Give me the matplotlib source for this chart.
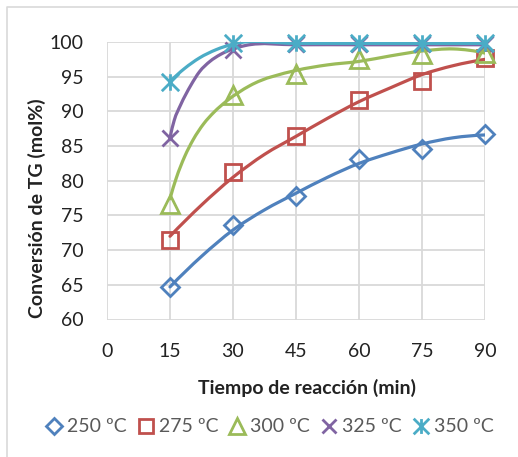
import numpy as np
import matplotlib

matplotlib.use("Agg")
import matplotlib.pyplot as plt
from matplotlib.lines import Line2D
from matplotlib.patches import PathPatch
from matplotlib.path import Path

plt.rcParams["font.family"] = ["Lato", "DejaVu Sans"]

tiempo = [15, 30, 45, 60, 75, 90]
labels = ["250 ºC", "275 ºC", "300 ºC", "325 ºC", "350 ºC"]

# experimental points (markers)
exp_250 = [64.7, 73.6, 77.8, 83.1, 84.6, 86.8]
exp_275 = [71.4, 81.3, 86.4, 91.7, 94.4, 97.7]
exp_300 = [76.7, 92.4, 95.4, 97.6, 98.2, 98.4]
exp_325 = [86.2, 98.9, 99.7, 99.7, 99.7, 99.7]
exp_350 = [94.3, 99.9, 99.9, 99.9, 99.9, 99.9]

# fitted curves at these times
t_250 = [15, 22.5, 30, 37.5, 45, 52.5, 60, 67.5, 75, 82.5, 90]
fit_250 = [64.7, 69.1, 72.9, 75.8, 78.2, 80.5, 82.5, 84.0, 85.3, 86.2, 86.6]
t_275 = [15, 22.5, 30, 37.5, 45, 52.5, 60, 67.5, 75, 82.5, 90]
fit_275 = [72.0, 76.5, 80.5, 83.8, 86.4, 89.0, 91.4, 93.4, 95.3, 96.6, 97.5]
t_300 = [15, 16.5, 18.5, 20.5, 23, 25.5, 28.5, 34, 45, 52.5, 60, 67.5, 75, 82.5, 90]
fit_300 = [77.4, 80.4, 83.5, 85.9, 88.2, 89.9, 91.5, 93.7, 95.9, 96.7, 97.2, 98.0, 98.7, 99.0, 98.4]
t_325 = [15, 16, 17.5, 20, 22, 24.5, 27, 30, 33, 45, 60, 75, 90]
fit_325 = [86.2, 88.7, 90.9, 93.8, 95.7, 97.2, 98.2, 99.0, 99.5, 99.6, 99.6, 99.6, 99.6]
t_350 = [15, 18.5, 22, 26, 30, 45, 60, 75, 90]
fit_350 = [94.3, 96.2, 97.7, 98.9, 99.7, 99.8, 99.8, 99.8, 99.8]

# Excel-like "star": an x with a vertical bar through it
STAR = Path(
    [(0, -0.95), (0, 0.95), (-1, -1), (1, 1), (-1, 1), (1, -1)],
    [Path.MOVETO, Path.LINETO, Path.MOVETO, Path.LINETO, Path.MOVETO, Path.LINETO],
)

styles = [
    ("#4F81BD", "D", 9.5),
    ("#C0504D", "s", 11),
    ("#9BBB59", "^", 13),
    ("#8064A2", "x", 11.5),
    ("#4BACC6", STAR, 12.5),
]


def smooth_path(xs, ys):
    # cubic hermite -> bezier through the read points
    x = np.asarray(xs, float)
    y = np.asarray(ys, float)
    m = np.gradient(y, x, edge_order=2)
    verts = [(x[0], y[0])]
    codes = [Path.MOVETO]
    for i in range(len(x) - 1):
        h = x[i + 1] - x[i]
        verts += [
            (x[i] + h / 3, y[i] + m[i] * h / 3),
            (x[i + 1] - h / 3, y[i + 1] - m[i + 1] * h / 3),
            (x[i + 1], y[i + 1]),
        ]
        codes += [Path.CURVE4] * 3
    return Path(verts, codes)


fig = plt.figure(figsize=(5.18, 4.57), dpi=100)
ax = fig.add_axes([107 / 518, 1 - 319.5 / 457, 378 / 518, 277.5 / 457])

exps = [exp_250, exp_275, exp_300, exp_325, exp_350]
fits = [(t_250, fit_250), (t_275, fit_275), (t_300, fit_300), (t_325, fit_325), (t_350, fit_350)]
handles = []
for k, (ye, (tf, yf), (color, marker, ms)) in enumerate(zip(exps, fits, styles)):
    ax.add_patch(
        PathPatch(
            smooth_path(tf, yf),
            fill=False,
            edgecolor=color,
            lw=2.3,
            capstyle="round",
            joinstyle="round",
            zorder=3 + k,
        )
    )
    ax.plot(
        tiempo,
        ye,
        ls="none",
        marker=marker,
        ms=ms,
        mfc="none",
        mec=color,
        mew=2.0,
        zorder=3 + k,
        clip_on=False,
    )
    handles.append(
        Line2D([], [], ls="none", marker=marker, ms=ms * 0.9, mfc="none", mec=color, mew=2.0)
    )

ax.set_xlim(0, 90)
ax.set_ylim(60, 100)
ax.set_xticks(range(0, 91, 15))
ax.set_yticks(range(60, 101, 5))
ax.grid(True, color="#d9d9d9", lw=1.3)
ax.set_axisbelow(True)
for s in ax.spines.values():
    s.set_visible(False)
ax.tick_params(length=0, labelsize=14, colors="#222222")
ax.tick_params(axis="y", pad=17)
ax.tick_params(axis="x", pad=17)

ax.set_xlabel("Tiempo de reacción (min)", fontsize=14, fontweight="bold", color="#222222", va="center")
ax.xaxis.set_label_coords(0.529, -0.247)
ax.set_ylabel("Conversión de TG (mol%)", fontsize=14, fontweight="bold", color="#222222", va="center")
ax.yaxis.set_label_coords(-0.185, 0.40)

fig.legend(
    handles,
    labels,
    loc="center",
    bbox_to_anchor=(0.521, 1 - 427 / 457),
    ncol=5,
    frameon=False,
    fontsize=14,
    labelcolor="#595959",
    handlelength=0.8,
    handletextpad=0.25,
    columnspacing=0.6,
    borderaxespad=0,
)

# chart border (only the top and left edges are inside the crop)
fig.add_artist(
    Line2D([7 / 518, 7 / 518, 1.0], [0.0, 1 - 7 / 457, 1 - 7 / 457],
           transform=fig.transFigure, color="#d9d9d9", lw=1.2)
)

fig.savefig("out.png", dpi=100)
